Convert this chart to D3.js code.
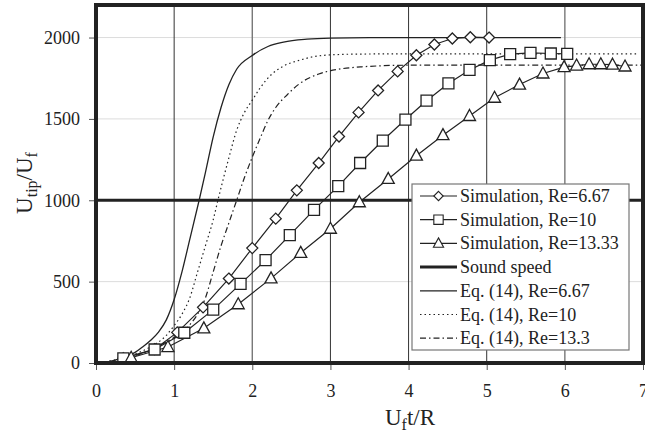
<!DOCTYPE html>
<html>
<head>
<meta charset="utf-8">
<script src="https://cdn.jsdelivr.net/npm/d3@7"></script>
<style>
  body { margin: 0; background: #fff; }
  svg text { font-family: "Liberation Serif", "DejaVu Serif", serif !important; fill: #222; }
</style>
</head>
<body>
<div id="chart"></div>
<script>
// data

var xTicks = [0, 1, 2, 3, 4, 5, 6, 7];
var yTicks = [0, 500, 1000, 1500, 2000];

// Simulation, Re=6.67 (diamonds)
var simX1 = [0.35, 0.75, 1.04, 1.37, 1.70, 2.00, 2.30, 2.57, 2.85, 3.11, 3.36, 3.61, 3.86, 4.10, 4.33, 4.56, 4.79, 5.03];
var simY1 = [29, 85, 188, 342, 519, 706, 887, 1061, 1229, 1392, 1540, 1675, 1792, 1891, 1957, 1994, 2002, 2000];

// Simulation, Re=10 (squares)
var simX2 = [0.35, 0.75, 1.13, 1.50, 1.85, 2.17, 2.48, 2.79, 3.10, 3.38, 3.67, 3.96, 4.23, 4.51, 4.78, 5.04, 5.30, 5.56, 5.82, 6.03];
var simY2 = [29, 83, 186, 328, 486, 632, 786, 941, 1087, 1229, 1367, 1496, 1612, 1718, 1801, 1861, 1898, 1906, 1902, 1900];

// Simulation, Re=13.33 (triangles)
var simX3 = [0.45, 0.92, 1.38, 1.82, 2.24, 2.62, 3.00, 3.37, 3.74, 4.10, 4.44, 4.78, 5.10, 5.42, 5.72, 5.99, 6.15, 6.31, 6.46, 6.61, 6.77];
var simY3 = [32, 98, 213, 361, 520, 677, 825, 988, 1131, 1274, 1400, 1518, 1630, 1711, 1779, 1818, 1828, 1836, 1836, 1833, 1822];

// Sound speed
var soundX = [0, 7];
var soundY = [1000, 1000];

// Eq. (14), Re=6.67
var eqX1 = [0, 0.2, 0.35, 0.5, 0.6, 0.7, 0.8, 0.9, 1.0, 1.1, 1.2, 1.32, 1.4, 1.5, 1.6, 1.7, 1.8, 2.0, 2.2, 2.4, 2.7, 3.0, 3.5, 4.5, 5.95];
var eqY1 = [0, 12, 35, 65, 100, 140, 190, 265, 390, 560, 760, 1000, 1170, 1390, 1570, 1710, 1805, 1890, 1945, 1972, 1990, 1997, 2000, 2000, 2000];

// Eq. (14), Re=10
var eqX2 = [0, 0.3, 0.5, 0.7, 0.9, 1.0, 1.1, 1.2, 1.3, 1.4, 1.5, 1.56, 1.7, 1.8, 1.9, 2.0, 2.1, 2.25, 2.4, 2.6, 2.9, 3.3, 4.0, 6.95];
var eqY2 = [0, 25, 55, 100, 170, 230, 300, 400, 560, 720, 880, 1000, 1260, 1430, 1540, 1615, 1690, 1775, 1825, 1860, 1890, 1898, 1900, 1900];

// Eq. (14), Re=13.3
var eqX3 = [0, 0.3, 0.5, 0.7, 0.9, 1.1, 1.2, 1.3, 1.4, 1.5, 1.6, 1.7, 1.8, 1.9, 2.0, 2.1, 2.2, 2.3, 2.45, 2.6, 2.85, 3.1, 3.4, 4.0, 7.0];
var eqY3 = [0, 20, 45, 80, 130, 190, 235, 300, 400, 560, 720, 860, 1000, 1140, 1265, 1380, 1490, 1570, 1650, 1715, 1776, 1805, 1820, 1830, 1830];

var legendLabels = ["Simulation, Re=6.67", "Simulation, Re=10", "Simulation, Re=13.33",
  "Sound speed", "Eq. (14), Re=6.67", "Eq. (14), Re=10", "Eq. (14), Re=13.3"];

//Set up chart

var svgWidth = 645;
var svgHeight = 435;
var serif = "'Liberation Serif', 'DejaVu Serif', serif";

var margin = { top: 5, right: 2, bottom: 72, left: 96 };
var width = svgWidth - margin.left - margin.right;
var height = svgHeight - margin.top - margin.bottom;

var svg = d3.select("#chart")
  .append("svg")
  .attr("width", svgWidth)
  .attr("height", svgHeight)
  .attr("font-family", serif);

var chartGroup = svg.append("g")
  .attr("transform", `translate(${margin.left}, ${margin.top})`);

var x = d3.scaleLinear().domain([0, 7]).range([0, width]);
var y = d3.scaleLinear().domain([0, 2200]).range([height, 0]);

svg.append("defs").append("clipPath").attr("id", "clip")
  .append("rect").attr("width", width).attr("height", height);

// gridlines
chartGroup.selectAll(".hgrid")
  .data([500, 1500, 2000])
  .enter().append("line")
  .attr("x1", 0).attr("x2", width)
  .attr("y1", d => y(d)).attr("y2", d => y(d))
  .attr("stroke", "#dcdcdc").attr("stroke-width", 1);

chartGroup.selectAll(".vgrid")
  .data([1, 2, 3, 4, 5, 6])
  .enter().append("line")
  .attr("x1", d => x(d)).attr("x2", d => x(d))
  .attr("y1", 0).attr("y2", height)
  .attr("stroke", d => (d === 2 || d === 6) ? "#777" : "#333")
  .attr("stroke-width", d => (d === 2 || d === 6) ? 1.4 : 1);

// axes
var bottomAxis = d3.axisBottom(x).tickValues(xTicks).tickSize(7).tickFormat(d3.format("d"));
var leftAxis = d3.axisLeft(y).tickValues(yTicks).tickSize(7).tickFormat(d3.format("d"));

var xAxis = chartGroup.append("g")
  .attr("transform", `translate(0, ${height})`)
  .call(bottomAxis);
var yAxis = chartGroup.append("g").call(leftAxis);

[xAxis, yAxis].forEach(function(a) {
  a.attr("font-family", serif);
  a.select(".domain").remove();
  a.selectAll(".tick line").attr("stroke", "#555");
  a.selectAll(".tick text")
    .style("font-family", serif)
    .style("font-size", "18px")
    .attr("fill", "#222");
});
xAxis.selectAll(".tick text").attr("y", 21);
yAxis.selectAll(".tick text").attr("x", -16);

var plot = chartGroup.append("g").attr("clip-path", "url(#clip)");

function zipXY(xs, ys) {
  return xs.map((d, i) => ({ x: d, y: ys[i] }));
}

var curveLine = d3.line()
  .x(d => x(d.x)).y(d => y(d.y))
  .curve(d3.curveMonotoneX);
var straightLine = d3.line()
  .x(d => x(d.x)).y(d => y(d.y));

// Eq. (14) curves
var eqSeries = [
  { data: zipXY(eqX1, eqY1), dash: null, w: 1.3 },
  { data: zipXY(eqX2, eqY2), dash: "1.5,3", w: 1.2 },
  { data: zipXY(eqX3, eqY3), dash: "6,3,1.5,3", w: 1.2 }
];
eqSeries.forEach(function(s) {
  plot.append("path")
    .attr("d", curveLine(s.data))
    .attr("fill", "none")
    .attr("stroke", "#222")
    .attr("stroke-width", s.w)
    .attr("stroke-dasharray", s.dash);
});

// sound speed
plot.append("path")
  .attr("d", straightLine(zipXY(soundX, soundY)))
  .attr("stroke", "#222")
  .attr("stroke-width", 3);

// marker shapes
var diamond = "M0,-5.5L5.5,0L0,5.5L-5.5,0Z";
var square = "M-5.5,-5.5H5.5V5.5H-5.5Z";
var triangle = "M0,-6.5L6,4.5H-6Z";

var simSeries = [
  { data: zipXY(simX1, simY1), shape: diamond },
  { data: zipXY(simX2, simY2), shape: square },
  { data: zipXY(simX3, simY3), shape: triangle }
];
simSeries.forEach(function(s) {
  plot.append("path")
    .attr("d", straightLine(s.data))
    .attr("fill", "none")
    .attr("stroke", "#222")
    .attr("stroke-width", 1.2);
});
simSeries.forEach(function(s) {
  plot.selectAll(null)
    .data(s.data)
    .enter().append("path")
    .attr("d", s.shape)
    .attr("transform", d => `translate(${x(d.x)}, ${y(d.y)})`)
    .attr("fill", "#fff")
    .attr("stroke", "#222")
    .attr("stroke-width", 1.3);
});

// frame
chartGroup.append("rect")
  .attr("x", 0).attr("y", 0)
  .attr("width", width).attr("height", height)
  .attr("fill", "none")
  .attr("stroke", "#222")
  .attr("stroke-width", 4);

// legend
var legend = svg.append("g").attr("transform", "translate(412, 184)");
legend.append("rect")
  .attr("width", 217).attr("height", 166)
  .attr("fill", "#fff")
  .attr("stroke", "#777")
  .attr("stroke-width", 1.2);

var legendStyles = [
  { shape: diamond, w: 1.2, dash: null },
  { shape: square, w: 1.2, dash: null },
  { shape: triangle, w: 1.2, dash: null },
  { shape: null, w: 3, dash: null },
  { shape: null, w: 1.3, dash: null },
  { shape: null, w: 1.2, dash: "1.5,3" },
  { shape: null, w: 1.2, dash: "6,3,1.5,3" }
];

legendLabels.forEach(function(label, i) {
  var row = legend.append("g").attr("transform", `translate(0, ${12 + i * 23.7})`);
  var st = legendStyles[i];
  row.append("line")
    .attr("x1", 8).attr("x2", 45)
    .attr("stroke", "#222")
    .attr("stroke-width", st.w)
    .attr("stroke-dasharray", st.dash);
  if (st.shape) {
    row.append("path")
      .attr("d", st.shape)
      .attr("transform", "translate(26.5, 0) scale(0.85)")
      .attr("fill", "#fff")
      .attr("stroke", "#222")
      .attr("stroke-width", 1.3);
  }
  row.append("text")
    .attr("x", 48).attr("y", 6)
    .style("font-family", serif)
    .style("font-size", "18px")
    .text(label);
});

// axis titles
var xTitle = svg.append("text")
  .attr("x", 410).attr("y", 425)
  .attr("text-anchor", "middle")
  .style("font-family", serif)
  .style("font-size", "23px");
xTitle.append("tspan").text("U");
xTitle.append("tspan").attr("dy", 5).style("font-size", "16px").text("f");
xTitle.append("tspan").attr("dy", -5).text("t/R");

var yTitle = svg.append("text")
  .attr("transform", "translate(32, 183) rotate(-90)")
  .attr("text-anchor", "middle")
  .style("font-family", serif)
  .style("font-size", "23px");
yTitle.append("tspan").text("U");
yTitle.append("tspan").attr("dy", 5).style("font-size", "16px").text("tip");
yTitle.append("tspan").attr("dy", -5).text("/U");
yTitle.append("tspan").attr("dy", 5).style("font-size", "16px").text("f");
</script>
</body>
</html>
